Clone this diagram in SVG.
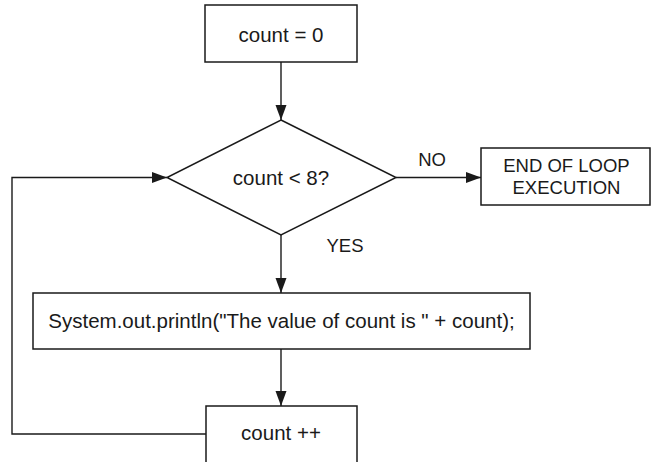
<svg xmlns="http://www.w3.org/2000/svg" width="652" height="462" viewBox="0 0 652 462">
  <style>
    .box { fill: #ffffff; stroke: #1a1a1a; stroke-width: 1.5; }
    .edge { fill: none; stroke: #1a1a1a; stroke-width: 1.4; }
    .lbl { font-family: "Liberation Sans", Arial, sans-serif; font-size: 20.5px; fill: #1a1a1a; text-anchor: middle; }
    .small { font-family: "Liberation Sans", Arial, sans-serif; font-size: 18.5px; fill: #1a1a1a; text-anchor: middle; }
  </style>
  <defs>
    <marker id="arrow" markerUnits="userSpaceOnUse" markerWidth="16" markerHeight="12" refX="15" refY="5.5" orient="auto">
      <path d="M0,0 L15,5.5 L0,11 Z" fill="#1a1a1a"/>
    </marker>
  </defs>
  <rect width="652" height="462" fill="#ffffff"/>

  <!-- connectors -->
  <g id="connectors">
    <path class="edge" d="M281,62 L281,120" marker-end="url(#arrow)"/>
    <path class="edge" d="M396,177.5 L481,177.5" marker-end="url(#arrow)"/>
    <path class="edge" d="M281,235 L281,293" marker-end="url(#arrow)"/>
    <path class="edge" d="M281,349 L281,406" marker-end="url(#arrow)"/>
    <path class="edge" d="M206,434 L12,434 L12,177.5 L167,177.5" marker-end="url(#arrow)"/>
    <text class="small" x="432" y="166">NO</text>
    <text class="small" x="345" y="251.5">YES</text>
  </g>

  <g id="init">
    <rect class="box" x="205" y="5" width="152" height="57"/>
    <text class="lbl" x="281" y="41.5">count = 0</text>
  </g>

  <g id="condition">
    <polygon class="box" points="281,120 396,177.5 281,235 167,177.5"/>
    <text class="lbl" x="281" y="185">count &lt; 8?</text>
  </g>

  <g id="end">
    <rect class="box" x="481" y="148" width="169" height="57"/>
    <text class="small" x="566.5" y="172">END OF LOOP</text>
    <text class="small" x="566.5" y="194">EXECUTION</text>
  </g>

  <g id="print">
    <rect class="box" x="33" y="293" width="497" height="56"/>
    <text class="lbl" x="281.5" y="328">System.out.println("The value of count is " + count);</text>
  </g>

  <g id="increment">
    <rect class="box" x="206" y="406" width="151" height="70"/>
    <text class="lbl" x="281" y="439.5">count ++</text>
  </g>
</svg>
